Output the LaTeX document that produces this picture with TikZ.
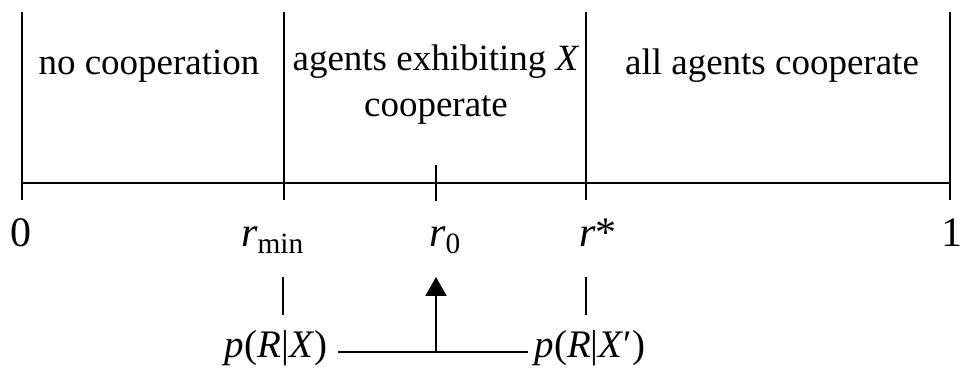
\documentclass[tikz,border=0pt]{standalone}
\usepackage{fontspec}
\setmainfont{Liberation Serif}
\usetikzlibrary{arrows.meta}
\begin{document}
\begin{tikzpicture}[x=0.5pt, y=-0.5pt, line width=1.1pt,
    region/.style={inner sep=0pt, anchor=base, align=center,
      font=\fontsize{18.5}{21}\selectfont},
    tick/.style={inner sep=0pt, anchor=base west,
      font=\fontsize{21}{24}\selectfont},
    prob/.style={inner sep=0pt, anchor=base,
      font=\fontsize{19.5}{24}\selectfont}]
  \useasboundingbox (0,0) rectangle (965,373);

  % 1. dividers of the unit interval
  \foreach \name/\xx in {zero/22, rmin/284, rstar/586, one/950} {
    \coordinate (\name top) at (\xx,12);
    \coordinate (\name bot) at (\xx,200);
    \draw (\name top) -- (\name bot);
  }
  \coordinate (axisL) at (22,183);
  \coordinate (axisR) at (950,183);
  \draw (axisL) -- (axisR);
  \coordinate (rzero top) at (436,165);
  \coordinate (rzero bot) at (436,201);
  \draw (rzero top) -- (rzero bot);

  % 2. regions (base = last line)
  \node[region] (noCoop) at (149,75) {no cooperation};
  \node[region] (someCoop) at (436,117) {agents exhibiting \textit{X}\\[2pt] cooperate};
  \node[region] (allCoop) at (772,75) {all agents cooperate};

  % 3. axis labels
  \node[tick] (lblZero) at (9,247) {0};
  \node[tick] (lblMin) at (240,247) {\textit{r}\textsubscript{min}};
  \node[tick] (lblRzero) at (428,247) {\textit{r}\textsubscript{0}};
  \node[tick] (lblStar) at (578,247) {\textit{r}*};
  \node[tick, anchor=base east] (lblOne) at (964,247) {1};

  % 4. the two conditional probabilities
  \coordinate (minMark top) at (283,277);
  \coordinate (minMark bot) at (283,315);
  \coordinate (starMark top) at (586,277);
  \coordinate (starMark bot) at (586,315);
  \draw (minMark top) -- (minMark bot);
  \draw (starMark top) -- (starMark bot);

  \node[prob] (pX) at (276,358) {\textit{p}(\textit{R}|\textit{X})};
  \node[prob] (pXp) at (590,358) {\textit{p}(\textit{R}|\textit{X}′)};
  \coordinate (lineL) at (338,352);
  \coordinate (lineR) at (528,352);
  \coordinate (arrowFoot) at (436,352);
  \coordinate (arrowTip) at (436,277);
  \draw (lineL) -- (lineR);
  \draw[-{Triangle[length=9.5pt, width=10.5pt]}] (arrowFoot) -- (arrowTip);
\end{tikzpicture}
\end{document}
